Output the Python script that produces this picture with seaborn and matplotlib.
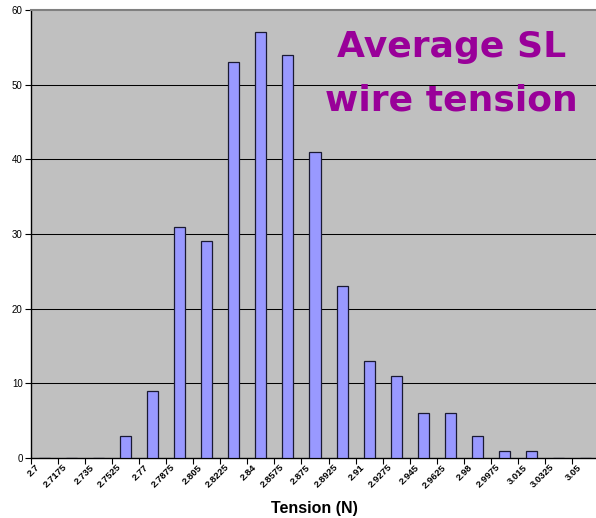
import numpy as np
import pandas as pd
import matplotlib
matplotlib.use("Agg")
import matplotlib.pyplot as plt
import matplotlib.transforms as mtransforms
import seaborn as sns

tension = ["2.7", "2.7175", "2.735", "2.7525", "2.77", "2.7875", "2.805",
           "2.8225", "2.84", "2.8575", "2.875", "2.8925", "2.91", "2.9275",
           "2.945", "2.9625", "2.98", "2.9975", "3.015", "3.0325", "3.05"]
counts = [0, 0, 0, 3, 9, 31, 29, 53, 57, 54, 41, 23, 13, 11, 6, 6, 3, 1, 1, 0, 0]

df = pd.DataFrame({"Tension": tension, "Count": counts})

sns.set_theme(style="white")
plt.rcParams['font.family'] = ['Liberation Sans', 'DejaVu Sans']
plt.rcParams.update({'text.color': 'black', 'xtick.color': 'black',
                     'ytick.color': 'black', 'axes.labelcolor': 'black'})

fig = plt.figure(figsize=(5.96, 5.18), dpi=100)
# plot area runs a little past the right edge like in the original
ax = fig.add_axes([31 / 596, 1 - 458 / 518, (599 - 31) / 596, (458 - 10) / 518])
ax.set_facecolor("#c0c0c0")

sns.barplot(data=df, x="Tension", y="Count", order=tension, color="#9999ff",
            saturation=1, width=0.41, edgecolor="#1a1a33", linewidth=0.9, ax=ax,
            zorder=3)

ax.set_ylim(0, 60)
ax.set_xlim(-0.5, len(tension) - 0.5)
ax.set_yticks(range(0, 61, 10))
for y in range(10, 60, 10):
    ax.axhline(y, color="black", linewidth=0.75, zorder=1)

for side in ["left", "bottom"]:
    ax.spines[side].set_color("black")
    ax.spines[side].set_linewidth(1.0)
ax.spines["top"].set_color("#808080")
ax.spines["top"].set_linewidth(1.5)
ax.spines["right"].set_visible(False)

ax.tick_params(axis="y", which="major", direction="out", length=4, width=0.8,
               labelsize=7, color="black", pad=2, left=True)
ax.tick_params(axis="x", which="major", length=0, labelsize=6.8, pad=2, bottom=True)
ax.set_xticks(np.arange(-0.5, len(tension), 1), minor=True)
ax.tick_params(axis="x", which="minor", direction="out", length=4, width=0.8,
               color="black", bottom=True)
ax.set_xticks(range(len(tension)))
ax.set_xticklabels(tension, rotation=45, ha="right", rotation_mode="anchor",
                   fontweight="bold")
shift = mtransforms.ScaledTranslation(-9 / 100, -2 / 100, fig.dpi_scale_trans)
for lbl in ax.get_xticklabels():
    lbl.set_transform(lbl.get_transform() + shift)

ax.set_ylabel("")
ax.set_xlabel("")
fig.text(314 / 596, 1 - 508 / 518, "Tension (N)", fontsize=11.5, fontweight="bold",
         ha="center", va="center")

fig.text(452 / 596, 1 - 47 / 518, "Average SL", color="#990099", fontsize=26,
         fontweight="bold", ha="center", va="center", family=["DejaVu Sans"])
fig.text(451 / 596, 1 - 100 / 518, "wire tension", color="#990099", fontsize=26,
         fontweight="bold", ha="center", va="center", family=["DejaVu Sans"])

fig.savefig("out.png", dpi=100, facecolor="white")
